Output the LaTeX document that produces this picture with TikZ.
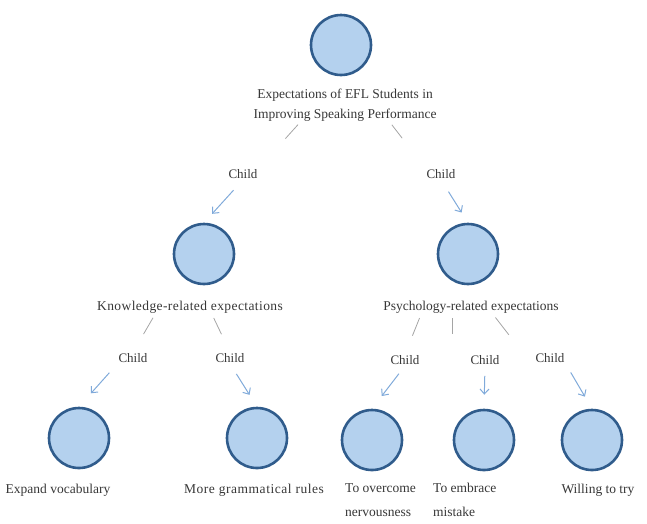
\documentclass[tikz,border=0pt]{standalone}
\usepackage{fontspec}
\setmainfont{Liberation Serif}
\usetikzlibrary{arrows.meta,positioning}
\definecolor{bubblefill}{RGB}{180,209,238}
\definecolor{bubbleline}{RGB}{48,92,140}
\definecolor{arrowblue}{RGB}{128,170,218}
\definecolor{stubgray}{RGB}{165,165,165}
\definecolor{txtgray}{RGB}{55,55,55}
\begin{document}
\begin{tikzpicture}[x=1pt, y=-1pt,
    bubble/.style={circle, draw=bubbleline, fill=bubblefill, line width=2.6pt, minimum size=60pt, inner sep=0pt},
    lbl/.style={text=txtgray, font=\fontsize{13.5}{20}\selectfont, inner sep=1pt},
    kid/.style={text=txtgray, font=\fontsize{13}{16}\selectfont, inner sep=1pt},
    stub/.style={draw=stubgray, line width=0.8pt},
    pointer/.style={draw=arrowblue, line width=1pt, -{Straight Barb[length=5pt, width=9pt]}}]
                    \useasboundingbox (0,0) rectangle (647,523);

                    \node[bubble] (root) at (341,45) {};
                    \node[lbl, align=center] (roottxt) at (345,105) {Expectations of EFL Students in\\Improving Speaking Performance};
                    \node[kid] (c1) at (243,174) {Child};
                    \node[kid] (c2) at (441,174) {Child};

                    \node[bubble] (know) at (204,254) {};
                    \node[bubble] (psy) at (468,254) {};
                    \node[lbl] (knowtxt) at (190,307) {\addfontfeature{LetterSpace=3}Knowledge-related expectations};
                    \node[lbl] (psytxt) at (471,307) {Psychology-related expectations};

                    \node[kid] (c3) at (133,358) {Child};
                    \node[kid] (c4) at (230,358) {Child};
                    \node[kid] (c5) at (405,360) {Child};
                    \node[kid] (c6) at (485,360) {Child};
                    \node[kid] (c7) at (550,358) {Child};

                    \node[bubble] (vocab) at (79,438) {};
                    \node[bubble] (gram) at (257,438) {};
                    \node[bubble] (nerv) at (372,440) {};
                    \node[bubble] (mist) at (484,440) {};
                    \node[bubble] (try) at (592,440) {};

                    \node[lbl] (vocabtxt) at (58,490) {Expand vocabulary};
                    \node[lbl] (gramtxt) at (254,490) {\addfontfeature{LetterSpace=4}More grammatical rules};
                    \node[lbl, align=left, anchor=north west] (nervtxt) at (344,482) {To overcome\\[4pt]nervousness};
                    \node[lbl, align=left, anchor=north west] (misttxt) at (432,482) {To embrace\\[4pt]mistake};
                    \node[lbl] (trytxt) at (598,490) {Willing to try};

                    \draw[stub, shorten <=3pt, shorten >=40pt] ([xshift=-45pt]roottxt.south) -- (c1.north east);
                    \draw[stub, shorten <=3pt, shorten >=38pt] ([xshift=45pt]roottxt.south) -- (c2.north west);
                    \draw[pointer, shorten <=14pt, shorten >=12pt] (c1.south) -- (know.north);
                    \draw[pointer, shorten <=14pt, shorten >=12pt] (c2.south) -- (psy.north);

                    \draw[stub, shorten <=4pt, shorten >=21pt] ([xshift=-35pt]knowtxt.south) -- (c3.north);
                    \draw[stub, shorten <=4pt, shorten >=20pt] ([xshift=22pt]knowtxt.south) -- (c4.north);
                    \draw[stub, shorten <=4pt, shorten >=20pt] ([xshift=-50pt]psytxt.south) -- (c5.north);
                    \draw[stub, shorten <=4pt, shorten >=20pt] ([xshift=-19pt]psytxt.south) -- ([xshift=-19pt]psytxt.south |- c6.north);
                    \draw[stub, shorten <=4pt, shorten >=22pt] ([xshift=22pt]psytxt.south) -- ([xshift=-12pt]c7.north west);

                    \draw[pointer, shorten <=12pt, shorten >=18pt] (c3.south west) -- (vocab.north);
                    \draw[pointer, shorten <=12pt, shorten >=14pt] (c4.south) -- (gram.north);
                    \draw[pointer, shorten <=10pt, shorten >=16pt] (c5.south) -- (nerv.north);
                    \draw[pointer, shorten <=10pt, shorten >=14pt] (c6.south) -- (mist.north);
                    \draw[pointer, shorten <=10pt, shorten >=14pt] (c7.south east) -- (try.north);
                \end{tikzpicture}
\end{document}
